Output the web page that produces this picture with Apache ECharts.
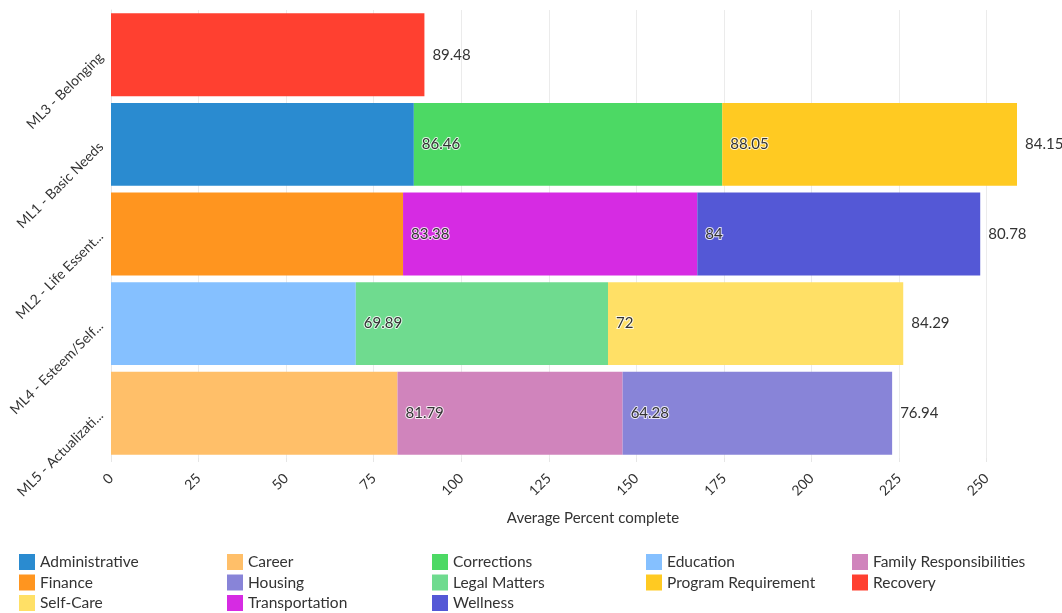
<!DOCTYPE html>
<html>
<head>
<meta charset="utf-8">
<script src="https://cdn.jsdelivr.net/npm/echarts@6/dist/echarts.min.js"></script>
<style>
  html, body { margin: 0; padding: 0; background: #fff; }
  #chart { width: 1062px; height: 613px; }
</style>
</head>
<body>
<div id="chart"></div>
<script>
// Motivation levels, listed top to bottom
const categories = ['ML3 - Belonging', 'ML1 - Basic Needs', 'ML2 - Life Essent...', 'ML4 - Esteem/Self...', 'ML5 - Actualizati...'];

// Average percent complete per domain, one value per motivation level (null = not in that level)
const administrative          = [null, 86.46, null, null, null];
const career                  = [null, null, null, null, 81.79];
const corrections             = [null, 88.05, null, null, null];
const education               = [null, null, null, 69.89, null];
const familyResponsibilities  = [null, null, null, null, 64.28];
const finance                 = [null, null, 83.38, null, null];
const housing                 = [null, null, null, null, 76.94];
const legalMatters            = [null, null, null, 72, null];
const programRequirement      = [null, 84.15, null, null, null];
const recovery                = [89.48, null, null, null, null];
const selfCare                = [null, null, null, 84.29, null];
const transportation          = [null, null, 84, null, null];
const wellness                = [null, null, 80.78, null, null];

const seriesDefs = [
  ['Administrative', administrative, '#2a8bd0'],
  ['Career', career, '#ffbf69'],
  ['Corrections', corrections, '#4cd964'],
  ['Education', education, '#85c0ff'],
  ['Family Responsibilities', familyResponsibilities, '#d084bc'],
  ['Finance', finance, '#ff951f'],
  ['Housing', housing, '#8884d8'],
  ['Legal Matters', legalMatters, '#6fdb8f'],
  ['Program Requirement', programRequirement, '#ffca22'],
  ['Recovery', recovery, '#ff4030'],
  ['Self-Care', selfCare, '#ffe066'],
  ['Transportation', transportation, '#d62be3'],
  ['Wellness', wellness, '#5458d6']
];

const FONT = 'Lato, "Open Sans", sans-serif';
const TEXT = '#333';

// Legend laid out as a 5-column grid, filled row by row
const LEGEND_COLS = 5;
const legendColumnX = [19, 227, 432, 646, 852];
const legends = legendColumnX.map((x, col) => ({
  orient: 'vertical',
  left: x,
  top: 554,
  padding: 0,
  icon: 'rect',
  itemWidth: 16,
  itemHeight: 16,
  itemGap: 4.5,
  itemTextGap: 14,
  textStyle: { fontFamily: FONT, fontSize: 15.5, color: TEXT },
  data: seriesDefs.map(d => d[0]).filter((_, i) => i % LEGEND_COLS === col)
}));

const chart = echarts.init(document.getElementById('chart'), null, { renderer: 'canvas' });

chart.setOption({
  animation: false,
  textStyle: { fontFamily: FONT },
  grid: { left: 111, right: 45, top: 10, bottom: 155, containLabel: false },
  xAxis: {
    type: 'value',
    min: 0,
    max: 'dataMax',
    interval: 25,
    name: 'Average Percent complete',
    nameLocation: 'middle',
    nameGap: 53,
    nameTextStyle: { fontFamily: FONT, fontSize: 15, color: TEXT, padding: [0, 0, 0, 58] },
    axisLine: { show: false },
    axisTick: { show: true, length: 4, lineStyle: { color: '#e6e6e6' } },
    axisLabel: { rotate: 45, margin: 18, fontSize: 14, color: TEXT, fontFamily: FONT, showMaxLabel: false },
    splitLine: { show: true, showMaxLine: false, lineStyle: { color: '#ebebeb', width: 1 } }
  },
  yAxis: {
    type: 'category',
    data: categories,
    inverse: true,
    axisLine: { show: true, lineStyle: { color: '#e6e6e6' } },
    axisTick: { show: false },
    axisLabel: { rotate: 45, margin: 10, fontSize: 14, color: TEXT, fontFamily: FONT }
  },
  legend: legends,
  series: seriesDefs.map(([name, values, color]) => ({
    name: name,
    type: 'bar',
    stack: 'total',
    data: values,
    barCategoryGap: '7.5%',
    itemStyle: { color: color },
    label: {
      show: true,
      position: 'right',
      distance: 8,
      fontSize: 15,
      fontFamily: FONT,
      color: TEXT,
      textBorderColor: 'rgba(255,255,255,0.8)',
      textBorderWidth: 2
    }
  }))
});
</script>
</body>
</html>
